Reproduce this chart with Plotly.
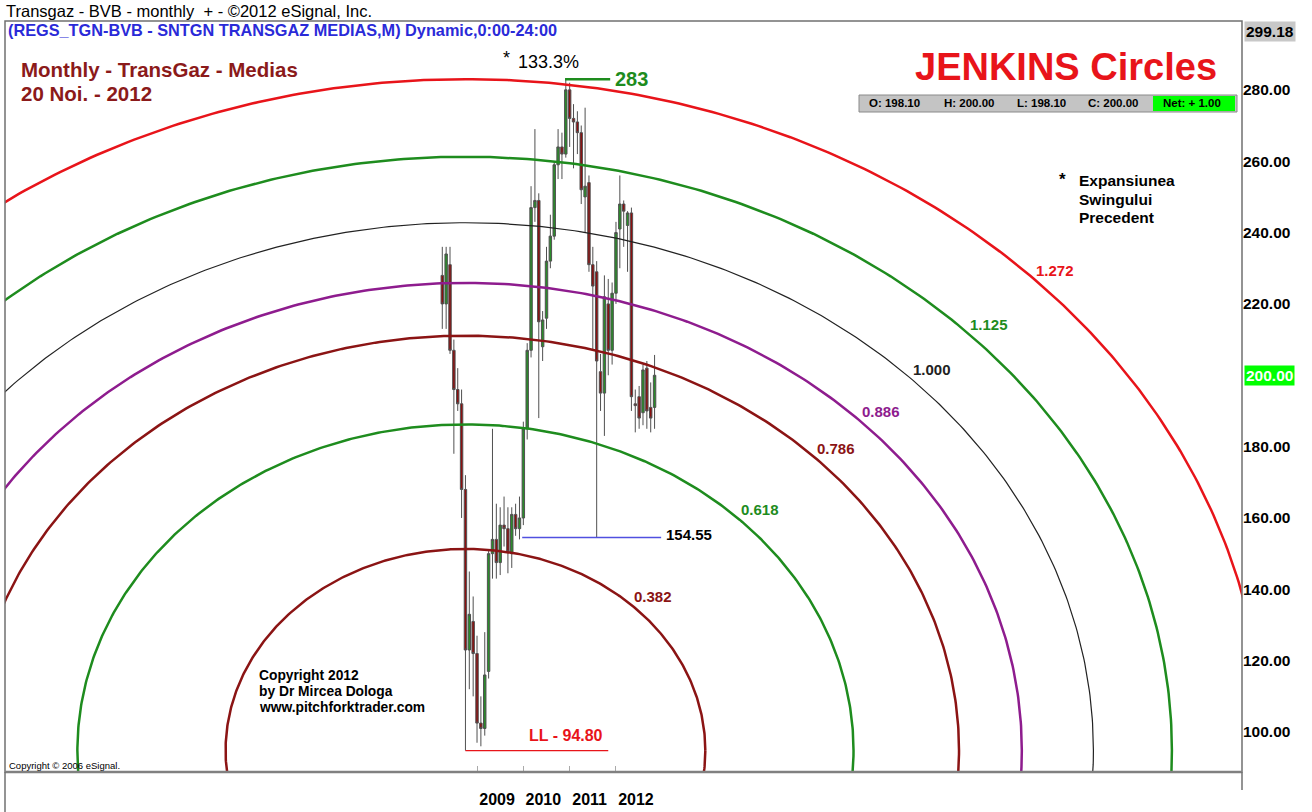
import math
import plotly.graph_objects as go

# ---------------- data ----------------
months = ["2008-04", "2008-05", "2008-06", "2008-07", "2008-08", "2008-09", "2008-10", "2008-11", "2008-12",
          "2009-01", "2009-02", "2009-03", "2009-04", "2009-05", "2009-06", "2009-07", "2009-08", "2009-09",
          "2009-10", "2009-11", "2009-12", "2010-01", "2010-02", "2010-03", "2010-04", "2010-05", "2010-06",
          "2010-07", "2010-08", "2010-09", "2010-10", "2010-11", "2010-12", "2011-01", "2011-02", "2011-03",
          "2011-04", "2011-05", "2011-06", "2011-07", "2011-08", "2011-09", "2011-10", "2011-11", "2011-12",
          "2012-01", "2012-02", "2012-03", "2012-04", "2012-05", "2012-06", "2012-07", "2012-08", "2012-09",
          "2012-10", "2012-11"]
opens = [228, 220, 231, 207, 196, 192, 168, 123, 131,
         122, 102.5, 101, 117, 150, 154, 147.5, 158, 157,
         150, 161, 157, 160, 185, 207, 247, 249, 208,
         216, 232, 239, 259, 264, 262, 280, 272, 271,
         268, 250, 254, 231, 229, 201, 195, 220, 207,
         223, 241, 248, 242, 245.5, 192, 194, 189.5, 202,
         191, 191]
highs = [236, 236, 236, 210, 202, 196, 172, 145, 138,
         127, 110, 128, 151, 185, 164, 163, 166, 163,
         163, 164, 166, 187, 209, 253, 269, 251, 218,
         236, 245, 260, 269, 268, 283, 282, 276, 274,
         270, 275, 256, 236, 232, 206, 228, 227, 226,
         243, 256, 249, 246, 247, 196, 197, 203, 204,
         198, 205.7]
lows = [213, 213, 206, 178, 190, 160, 94.8, 112, 110,
        97, 96, 99, 115, 143, 143, 144, 152, 144.5,
        146, 155, 154, 158, 182, 205, 243, 188, 204,
        213, 230, 238, 255, 255, 261, 264, 258, 262,
        248, 240, 229, 207, 154.55, 190, 183, 200, 203,
        220, 230, 236, 229, 190, 184, 185, 186, 185,
        184, 185]
closes = [220, 234, 207, 196, 192, 168, 123, 133, 122,
          102.5, 101, 116, 150, 154, 147.5, 158, 157, 150.5,
          161, 157, 160, 185, 207, 247, 249, 215, 215.5,
          232, 239, 259, 264, 262, 280, 272, 271, 268,
          252, 253, 231, 225, 204, 195, 222, 207, 223,
          240, 248, 246, 245.5, 194, 191.5, 188, 201.5, 190,
          188, 200]

year_ticks = ["2009", "2010", "2011", "2012"]
price_ticks = [100, 120, 140, 160, 180, 200, 220, 240, 260, 280]

ll_month, ll_value = "2008-10", 94.80
hh_month, hh_value = "2010-12", 283.0
swing_low_value = 154.55
levels = [0.382, 0.618, 0.786, 0.886, 1.000, 1.125, 1.272]
level_colors = ["#8b1414", "#1e8c1e", "#8b1414", "#8e1c8e", "#222222", "#1e8c1e", "#e8141a"]
level_widths = [2.5, 2.5, 2.5, 2.5, 1.2, 2.5, 2.5]
ohlc_last = {"O": "198.10", "H": "200.00", "L": "198.10", "C": "200.00", "Net": "+ 1.00"}

# ---------------- helpers ----------------
def midx(s):
    y, m = s.split("-")
    return (int(y) - 2009) * 12 + int(m) - 1

xs = [midx(s) for s in months]
FONT = "Liberation Sans, Arial, sans-serif"
W, H = 1312, 812
L, R, T, B = 5, 1242, 21, 772

def px(x):
    return (x - L) / (R - L)

def py(y):
    return (B - y) / (B - T)

X_RANGE = [-122.3, 198.2]
Y_RANGE = [88.8, 299.3]
cx = midx(ll_month)
cy = ll_value
RY = (hh_value - ll_value) / 1.272          # price units per 1.0 level
RX = 162.7                                   # months per 1.0 level (aspect of the drawing)

fig = go.Figure()

# Jenkins circles
for k, col, lw in zip(levels, level_colors, level_widths):
    n = 721
    ex = [cx + k * RX * math.cos(2 * math.pi * i / (n - 1)) for i in range(n)]
    ey = [cy + k * RY * math.sin(2 * math.pi * i / (n - 1)) for i in range(n)]
    fig.add_trace(go.Scatter(x=ex, y=ey, mode="lines", line=dict(color=col, width=lw),
                             hoverinfo="skip", showlegend=False))

# candles
fig.add_trace(go.Candlestick(
    x=xs, open=opens, high=highs, low=lows, close=closes,
    increasing=dict(line=dict(color="#505050", width=1), fillcolor="#2a8c2a"),
    decreasing=dict(line=dict(color="#505050", width=1), fillcolor="#8b1010"),
    whiskerwidth=0, showlegend=False, hoverinfo="skip"))

shapes = []
annotations = []

# reference lines
shapes.append(dict(type="line", xref="x", yref="y", x0=cx, x1=cx + 37, y0=ll_value, y1=ll_value,
                   line=dict(color="#e8141a", width=1.2)))
shapes.append(dict(type="line", xref="x", yref="y", x0=11.7, x1=47.7, y0=swing_low_value, y1=swing_low_value,
                   line=dict(color="#5050e0", width=1.5)))
shapes.append(dict(type="line", xref="x", yref="y", x0=midx(hh_month) - 0.2, x1=midx(hh_month) + 11.5,
                   y0=hh_value, y1=hh_value, line=dict(color="#1e8c1e", width=2.5)))

# frame
shapes.append(dict(type="rect", xref="paper", yref="paper", x0=0, x1=1, y0=0, y1=1,
                   line=dict(color="#707070", width=1.5)))
shapes.append(dict(type="line", xref="paper", yref="paper", x0=0, x1=1, y0=0, y1=0,
                   line=dict(color="#808080", width=2.5)))
shapes.append(dict(type="line", xref="paper", yref="paper", x0=0, x1=0, y0=py(812), y1=0,
                   line=dict(color="#707070", width=1.5)))
shapes.append(dict(type="line", xref="paper", yref="paper", x0=1, x1=1, y0=py(790), y1=0,
                   line=dict(color="#707070", width=1.5)))

# OHLC box
shapes.append(dict(type="rect", xref="paper", yref="paper", x0=px(859), x1=px(1237), y0=py(112), y1=py(95),
                   fillcolor="#c4c4c4", line=dict(color="#8a8a8a", width=1)))
shapes.append(dict(type="rect", xref="paper", yref="paper", x0=px(1153), x1=px(1235), y0=py(111), y1=py(96),
                   fillcolor="#00ff00", line=dict(width=0)))

def ann(text, x, y, size, color="black", bold=False, xanchor="center", yanchor="middle", **kw):
    t = f"<b>{text}</b>" if bold else text
    d = dict(text=t, x=px(x), y=py(y), xref="paper", yref="paper", showarrow=False,
             font=dict(family=FONT, size=size, color=color), xanchor=xanchor, yanchor=yanchor)
    d.update(kw)
    annotations.append(d)

ann("Transgaz - BVB - monthly  + - ©2012 eSignal, Inc.", 4, 11, 16.5, xanchor="left")
ann("(REGS_TGN-BVB - SNTGN TRANSGAZ MEDIAS,M) Dynamic,0:00-24:00", 6, 30, 16.3, color="#2a2ad8", bold=True, xanchor="left")
ann("Monthly - TransGaz - Medias", 19, 70, 20.5, color="#8b1a1a", bold=True, xanchor="left")
ann("20 Noi. - 2012", 19, 94, 20.5, color="#8b1a1a", bold=True, xanchor="left")
ann("JENKINS Circles", 1066, 67, 38, color="#e8141a", bold=True)

for key, xc in zip(["O", "H", "L", "C"], [894, 969, 1041, 1113]):
    ann(f"{key}: {ohlc_last[key]}", xc, 103.5, 11.5, bold=True)
ann(f"Net: {ohlc_last['Net']}", 1192, 103.5, 11.5, bold=True)

ann("*", 1062, 179, 17, bold=True)
ann("Expansiunea", 1077, 180, 15.5, bold=True, xanchor="left")
ann("Swingului", 1077, 199, 15.5, bold=True, xanchor="left")
ann("Precedent", 1077, 218, 15.5, bold=True, xanchor="left")

ann("Copyright 2012", 257, 675, 13.8, bold=True, xanchor="left")
ann("by Dr Mircea Dologa", 257, 691, 13.8, bold=True, xanchor="left")
ann("www.pitchforktrader.com", 257, 707, 13.8, bold=True, xanchor="left")
ann("Copyright © 2006 eSignal.", 7, 765, 9.5, xanchor="left")

ann("*", 507, 58, 18)
ann("133.3%", 516, 62, 18, xanchor="left")

# data-anchored labels
annotations.append(dict(text="<b>283</b>", x=midx(hh_month) + 12.2, y=hh_value, xref="x", yref="y",
                        showarrow=False, xanchor="left", yanchor="middle",
                        font=dict(family=FONT, size=20, color="#1e8c1e")))
annotations.append(dict(text=f"<b>{swing_low_value:.2f}</b>", x=48.5, y=swing_low_value, xref="x", yref="y",
                        showarrow=False, xanchor="left", yanchor="middle", yshift=3,
                        font=dict(family=FONT, size=15, color="black")))
annotations.append(dict(text=f"<b>LL - {ll_value:.2f}</b>", x=cx + 26, y=ll_value, xref="x", yref="y",
                        showarrow=False, xanchor="center", yanchor="bottom", yshift=5,
                        font=dict(family=FONT, size=16, color="#e8141a")))

theta = math.radians(44)
for k, col in zip(levels, level_colors):
    annotations.append(dict(text=f"<b>{k:.3f}</b>", x=cx + k * RX * math.cos(theta), y=cy + k * RY * math.sin(theta),
                            xref="x", yref="y", showarrow=False, xshift=15, yshift=14,
                            font=dict(family=FONT, size=15, color=col)))

# axis extra labels
annotations.append(dict(text="<b>200.00</b>", x=1, y=200, xref="paper", yref="y", showarrow=False,
                        xanchor="left", yanchor="middle", xshift=2, bgcolor="#00ff00",
                        font=dict(family=FONT, size=15.5, color="white"), borderpad=1))
annotations.append(dict(text="<b>299.18</b>", x=1, y=py(31), xref="paper", yref="paper", showarrow=False,
                        xanchor="left", yanchor="middle", xshift=2, bgcolor="#c8c8c8",
                        font=dict(family=FONT, size=15.5, color="black"), borderpad=1))

fig.update_layout(
    width=W, height=H,
    margin=dict(l=L, r=W - R, t=T, b=H - B, pad=0),
    paper_bgcolor="white", plot_bgcolor="white",
    showlegend=False, boxgap=0.1,
    shapes=shapes, annotations=annotations,
    xaxis=dict(range=X_RANGE, rangeslider=dict(visible=False), showgrid=False, zeroline=False,
               showline=False, tickmode="array", tickvals=[midx(y + "-01") for y in year_ticks],
               ticktext=[f"<b>{y}</b>" for y in year_ticks], ticks="inside", ticklen=6,
               tickcolor="#aaaaaa", tickfont=dict(family=FONT, size=16, color="black"),
               ticklabelshift=20, ticklabelstandoff=16, fixedrange=True),
    yaxis=dict(range=Y_RANGE, side="right", showgrid=False, zeroline=False, showline=False,
               tickmode="array", tickvals=price_ticks,
               ticktext=["" if v == 200 else f"<b>{v:.2f}</b>" for v in price_ticks],
               ticks="", tickfont=dict(family=FONT, size=15.5, color="black"), fixedrange=True),
)

fig.write_html("out.html", config={"displayModeBar": False},
               post_script="document.body.style.margin='0';document.body.style.overflow='hidden';")
